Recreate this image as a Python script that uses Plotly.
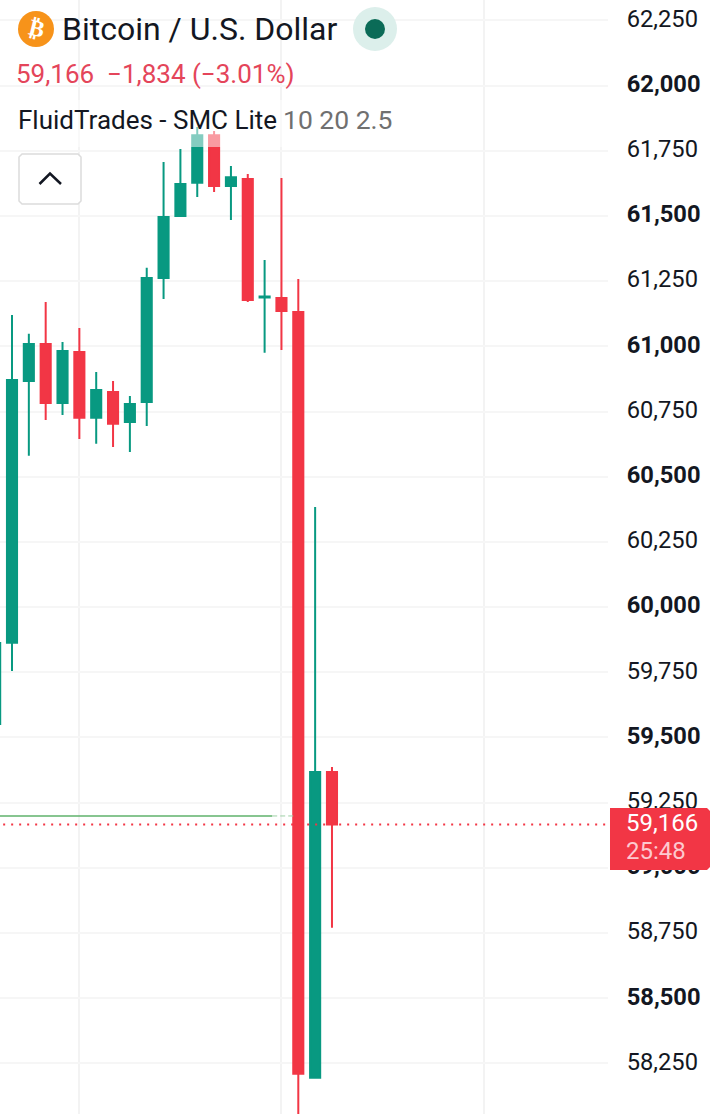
import plotly.graph_objects as go

# BTC/USD candles, oldest first
candle_index = list(range(-1, 20))
open_prices = [59552, 59863, 60867, 61009, 60783, 60978, 60726, 60825, 60710, 60787, 61262,
               61500, 61627, 61810, 61615, 61642, 61187, 61185, 61132, 58195, 59368]
high_prices = [59880, 61120, 61048, 61170, 61017, 61070, 60902, 60867, 60810, 61301, 61707,
               61757, 61841, 61826, 61692, 61661, 61331, 61646, 61258, 60384, 59387]
low_prices = [59500, 59755, 60580, 60718, 60737, 60645, 60626, 60614, 60595, 60695, 61182,
              61496, 61573, 61592, 61485, 61170, 60975, 60986, 58040, 58191, 58770]
close_prices = [59862, 60871, 61009, 60783, 60982, 60726, 60833, 60703, 60779, 61262, 61496,
                61623, 61810, 61615, 61649, 61178, 61191, 61136, 58210, 59368, 59166]

# Price axis
price_ticks = [62250, 62000, 61750, 61500, 61250, 61000, 60750, 60500, 60250, 60000,
               59750, 59500, 59250, 59000, 58750, 58500, 58250]
price_labels = ["62,250", "<b>62,000</b>", "61,750", "<b>61,500</b>", "61,250", "<b>61,000</b>",
                "60,750", "<b>60,500</b>", "60,250", "<b>60,000</b>", "59,750", "<b>59,500</b>",
                "59,250", "<b>59,000</b>", "58,750", "<b>58,500</b>", "58,250"]
time_grid = [4, 16, 28]

# Horizontal levels
last_price = 59166
smc_level = 59199
smc_solid_x = [-1, 15.45]
smc_fade_x = [15.45, 16.7]

GREEN = "#089981"
RED = "#f23645"
INK = "#131722"
W, H = 720, 1114
FONT = "Roboto"


def px(x):
    return x / W


def py(y):
    return 1 - y / H


def rect(x0, y0, x1, y1, **kw):
    return dict(type="rect", xref="paper", yref="paper", x0=px(x0), x1=px(x1),
                y0=py(y0), y1=py(y1), layer="above", **kw)


def circle(cx, cy, r, color):
    return dict(type="circle", xref="paper", yref="paper", x0=px(cx - r), x1=px(cx + r),
                y0=py(cy - r), y1=py(cy + r), fillcolor=color, line_width=0, layer="above")


def path(points, close=False):
    parts = [f"{'M' if i == 0 else 'L'}{px(x):.5f},{py(y):.5f}" for i, (x, y) in enumerate(points)]
    return " ".join(parts) + (" Z" if close else "")


def text(x, y, s, size, color, anchor="left", **kw):
    return dict(xref="paper", yref="paper", x=px(x), y=py(y), text=s, showarrow=False,
                xanchor=anchor, yanchor="middle", font=dict(family=FONT, size=size, color=color),
                borderpad=0, **kw)


fig = go.Figure()
fig.add_trace(go.Candlestick(
    x=candle_index, open=open_prices, high=high_prices, low=low_prices, close=close_prices,
    increasing=dict(line=dict(color=GREEN, width=2), fillcolor=GREEN),
    decreasing=dict(line=dict(color=RED, width=2), fillcolor=RED),
    whiskerwidth=0, hoverinfo="skip", showlegend=False,
))
fig.add_trace(go.Scatter(x=smc_solid_x, y=[smc_level] * 2, mode="lines",
                         line=dict(color="#5fb26b", width=1.5), hoverinfo="skip", showlegend=False))
fig.add_trace(go.Scatter(x=smc_fade_x, y=[smc_level] * 2, mode="lines",
                         line=dict(color="#9fd0a6", width=1, dash="5px,3px"), hoverinfo="skip", showlegend=False))
fig.add_trace(go.Scatter(x=[-1, 36], y=[last_price] * 2, mode="lines",
                         line=dict(color=RED, width=2, dash="2px,6px"), hoverinfo="skip", showlegend=False))

shapes = [
    # Translucent legend strip that veils the candles passing under it
    rect(15, 100, 398, 147, fillcolor="rgba(255,255,255,0.5)", line_width=0),
    # Collapse button
    dict(type="path", xref="paper", yref="paper", layer="above", fillcolor="white",
         line=dict(color="#dcdcdc", width=1.5),
         path=path([(22, 154), (78, 154), (81, 157), (81, 201), (78, 204), (22, 204), (19, 201), (19, 157)], True)),
    dict(type="path", xref="paper", yref="paper", layer="above",
         line=dict(color=INK, width=2.5), path=path([(39.5, 184), (50, 173.5), (61, 184)])),
    # Symbol logo and market status
    circle(36, 29, 18, "#f7931a"),
    circle(375, 29, 22, "#dcefeb"),
    circle(375, 29, 10, "#0b6b57"),
    # Last price tag
    dict(type="path", xref="paper", yref="paper", layer="above", fillcolor=RED, line_width=0,
         path=path([(610, 808), (707, 808), (710, 811), (710, 867), (707, 870), (610, 870)], True)),
]

annotations = [
    text(36, 29, "<b>₿</b>", 23, "white", anchor="center", textangle=14),
    text(61, 29, "Bitcoin / U.S. Dollar", 32, INK),
    text(15, 74, "59,166  −1,834 (−3.01%)", 26, "#e4455a"),
    text(17, 120, "FluidTrades - SMC Lite", 26, INK),
    text(282, 120, "10 20 2.5", 26.5, "#707070"),
    text(625, 823, "59,166", 24, "white"),
    text(625, 851, "25:48", 24, "#fdc9cf"),
]

fig.update_layout(
    width=W, height=H, margin=dict(l=0, r=0, t=0, b=0, pad=0, autoexpand=False),
    paper_bgcolor="white", plot_bgcolor="white", showlegend=False, boxgap=0.4, boxgroupgap=0,
    font=dict(family=FONT, size=24, color=INK), shapes=shapes, annotations=annotations,
    hovermode=False, dragmode=False,
    xaxis=dict(domain=[0, 608 / W], range=[-0.7126, 35.39], showticklabels=False, ticks="",
               tickmode="array", tickvals=time_grid, showgrid=True, gridcolor="#f3f3f3", gridwidth=2,
               zeroline=False, showline=False, rangeslider=dict(visible=False)),
    yaxis=dict(side="right", range=[58056, 62328.3], tickmode="array", tickvals=price_ticks,
               ticktext=price_labels, ticks="outside", ticklen=13, tickcolor="rgba(255,255,255,0)",
               showgrid=True, gridcolor="#f6f6f6", gridwidth=2, zeroline=False, showline=False,
               ticklabelshift=-2, tickfont=dict(family=FONT, size=23.7, color=INK)),
)

fig.write_html("out.html", config=dict(displayModeBar=False, staticPlot=True))
